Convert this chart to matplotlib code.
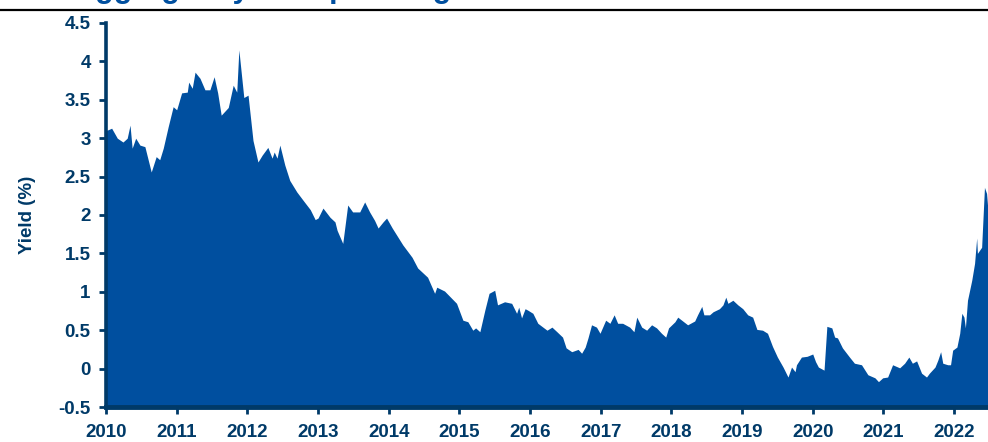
import matplotlib
matplotlib.use("Agg")
import matplotlib.pyplot as plt
from matplotlib.lines import Line2D
import numpy as np

# decimal year, yield (%)
t = [2010.00, 2010.03, 2010.08, 2010.16, 2010.24, 2010.30, 2010.34, 2010.37, 2010.42, 2010.48,
     2010.55, 2010.64, 2010.71, 2010.76, 2010.81, 2010.88, 2010.95, 2011.00, 2011.07, 2011.15,
     2011.17, 2011.22, 2011.26, 2011.33, 2011.40, 2011.47, 2011.53, 2011.58, 2011.63, 2011.67,
     2011.73, 2011.80, 2011.85, 2011.88, 2011.95, 2012.01, 2012.08, 2012.15, 2012.21, 2012.29,
     2012.35, 2012.38, 2012.42, 2012.46, 2012.53, 2012.60, 2012.70, 2012.79, 2012.89, 2012.96,
     2013.00, 2013.07, 2013.17, 2013.24, 2013.27, 2013.35, 2013.42, 2013.49, 2013.59, 2013.66,
     2013.73, 2013.80, 2013.85, 2013.92, 2013.97, 2014.05, 2014.20, 2014.33, 2014.41, 2014.55,
     2014.65, 2014.68, 2014.79, 2014.96, 2015.05, 2015.12, 2015.19, 2015.23, 2015.29, 2015.36,
     2015.42, 2015.50, 2015.54, 2015.64, 2015.74, 2015.81, 2015.84, 2015.88, 2015.93, 2015.97,
     2016.04, 2016.11, 2016.24, 2016.31, 2016.38, 2016.46, 2016.51, 2016.59, 2016.68, 2016.73,
     2016.78, 2016.82, 2016.87, 2016.94, 2016.99, 2017.07, 2017.13, 2017.19, 2017.24, 2017.31,
     2017.41, 2017.47, 2017.51, 2017.58, 2017.65, 2017.72, 2017.79, 2017.86, 2017.92, 2017.96,
     2018.05, 2018.09, 2018.23, 2018.33, 2018.37, 2018.43, 2018.46, 2018.54, 2018.59, 2018.68,
     2018.73, 2018.77, 2018.80, 2018.87, 2018.94, 2019.01, 2019.08, 2019.15, 2019.21, 2019.29,
     2019.36, 2019.43, 2019.50, 2019.58, 2019.65, 2019.70, 2019.75, 2019.77, 2019.84, 2019.92,
     2020.00, 2020.04, 2020.08, 2020.16, 2020.20, 2020.27, 2020.31, 2020.35, 2020.42, 2020.52,
     2020.59, 2020.69, 2020.78, 2020.88, 2020.93, 2020.99, 2021.06, 2021.13, 2021.23, 2021.30,
     2021.36, 2021.41, 2021.47, 2021.54, 2021.61, 2021.65, 2021.73, 2021.77, 2021.81, 2021.84,
     2021.91, 2021.95, 2021.98, 2022.04, 2022.08, 2022.11, 2022.14, 2022.16, 2022.19, 2022.25,
     2022.29, 2022.32, 2022.33, 2022.39, 2022.43, 2022.46, 2022.48]

yld = [3.10, 3.11, 3.13, 3.00, 2.95, 3.00, 3.17, 2.87, 3.00, 2.91,
       2.89, 2.56, 2.76, 2.72, 2.87, 3.15, 3.41, 3.37, 3.59, 3.60,
       3.73, 3.65, 3.86, 3.78, 3.63, 3.63, 3.80, 3.59, 3.30, 3.34,
       3.40, 3.69, 3.60, 4.15, 3.53, 3.56, 2.97, 2.69, 2.78, 2.88,
       2.74, 2.82, 2.74, 2.91, 2.65, 2.45, 2.30, 2.19, 2.07, 1.94,
       1.96, 2.09, 1.97, 1.91, 1.80, 1.63, 2.13, 2.04, 2.04, 2.17,
       2.04, 1.93, 1.83, 1.91, 1.96, 1.83, 1.61, 1.45, 1.31, 1.19,
       0.98, 1.06, 1.01, 0.85, 0.63, 0.61, 0.50, 0.53, 0.48, 0.76,
       0.98, 1.02, 0.83, 0.87, 0.85, 0.72, 0.80, 0.66, 0.78, 0.76,
       0.72, 0.59, 0.50, 0.54, 0.48, 0.41, 0.27, 0.22, 0.25, 0.20,
       0.28, 0.40, 0.57, 0.54, 0.46, 0.63, 0.59, 0.70, 0.59, 0.59,
       0.54, 0.48, 0.67, 0.54, 0.50, 0.57, 0.53, 0.46, 0.41, 0.53,
       0.61, 0.67, 0.57, 0.62, 0.70, 0.81, 0.70, 0.70, 0.74, 0.78,
       0.83, 0.93, 0.85, 0.89, 0.83, 0.78, 0.70, 0.67, 0.51, 0.50,
       0.46, 0.29, 0.15, 0.02, -0.11, 0.02, -0.04, 0.05, 0.15, 0.16,
       0.19, 0.09, 0.02, -0.02, 0.55, 0.53, 0.41, 0.40, 0.27, 0.15,
       0.07, 0.05, -0.08, -0.12, -0.17, -0.12, -0.11, 0.05, 0.01, 0.07,
       0.15, 0.07, 0.10, -0.06, -0.11, -0.06, 0.02, 0.11, 0.22, 0.07,
       0.05, 0.05, 0.24, 0.28, 0.46, 0.72, 0.67, 0.53, 0.89, 1.15,
       1.37, 1.70, 1.50, 1.58, 2.36, 2.28, 2.05]

years = list(range(2010, 2023))

blue = "#004f9f"
navy = "#003a68"

plt.rcParams['font.family'] = ['Liberation Sans', 'DejaVu Sans']

fig = plt.figure(figsize=(9.88, 4.42), dpi=100)
ax = fig.add_axes([106/988, 1 - 407/442, 1 - 106/988, (407 - 23)/442])

ax.fill_between(t, yld, -0.5, color=blue, linewidth=0)
ax.set_xlim(2010, 2022.48)
ax.set_ylim(-0.5, 4.5)

ax.set_yticks(np.arange(-0.5, 4.51, 0.5))
ax.set_yticklabels(["-0.5", "0", "0.5", "1", "1.5", "2", "2.5", "3", "3.5", "4", "4.5"])
ax.set_xticks(years)
ax.set_xticklabels([str(y) for y in years])

for s in ["top", "right"]:
    ax.spines[s].set_visible(False)
ax.spines["left"].set_color(navy)
ax.spines["left"].set_linewidth(2.6)
ax.spines["bottom"].set_color(navy)
ax.spines["bottom"].set_linewidth(3.5)

ax.tick_params(axis="both", colors=navy, width=2, length=5, labelsize=13.5)
for lab in ax.get_xticklabels() + ax.get_yticklabels():
    lab.set_fontweight("bold")
    lab.set_color(navy)
ax.tick_params(axis="x", pad=7)
ax.tick_params(axis="y", pad=6)

ax.set_ylabel("Yield (%)", color=navy, fontsize=13.5, fontweight="bold", labelpad=16)

# clipped title and rule at the top
fig.text(0.0, 1 + 3/442, "Euro aggregate yield up strong", color=blue,
         fontsize=22, fontweight="bold", va="baseline", ha="left")
fig.add_artist(Line2D([0, 1], [1 - 10/442, 1 - 10/442], color="black", linewidth=1.6,
                      transform=fig.transFigure))

fig.savefig("out.png", dpi=100)
